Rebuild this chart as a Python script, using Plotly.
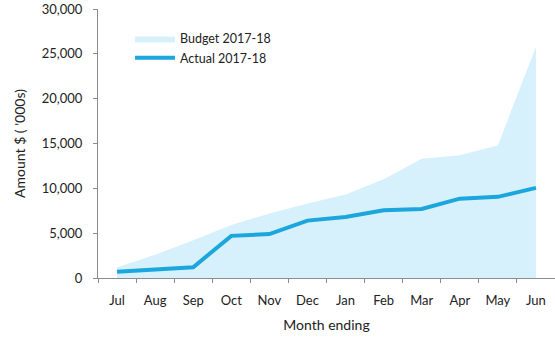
import plotly.graph_objects as go

months = ['Jul', 'Aug', 'Sep', 'Oct', 'Nov', 'Dec', 'Jan', 'Feb', 'Mar', 'Apr', 'May', 'Jun']
budget = [1200, 2600, 4200, 5900, 7200, 8300, 9300, 11000, 13300, 13700, 14800, 25800]
actual = [700, 1000, 1200, 4700, 4900, 6400, 6800, 7550, 7700, 8850, 9050, 10050]

font = 'Lato, "Open Sans", sans-serif'
axis_grey = '#8c8c8c'

fig = go.Figure()
fig.add_trace(go.Scatter(x=months, y=budget, name='Budget 2017-18', mode='lines',
                         fill='tozeroy', fillcolor='#d7f1fc', line=dict(width=0, color='#d7f1fc')))
fig.add_trace(go.Scatter(x=months, y=actual, name='Actual 2017-18', mode='lines',
                         line=dict(width=4, color='#1ba6dd')))

fig.update_layout(
    width=555, height=338,
    margin=dict(l=98, r=0, t=9, b=60),
    paper_bgcolor='white', plot_bgcolor='white',
    font=dict(family=font, size=13, color='#222'),
    showlegend=True,
    legend=dict(x=0.07, y=0.945, xanchor='left', yanchor='top', bgcolor='rgba(0,0,0,0)',
                font=dict(size=12.5), itemwidth=40, tracegroupgap=0),
    xaxis=dict(type='category', range=[-0.5, 11.5], showline=True, linecolor=axis_grey,
               ticks='outside', tickson='boundaries', ticklen=4, tickcolor=axis_grey,
               ticklabelstandoff=10, showgrid=False, zeroline=False, automargin=False,
               title=dict(text='Month ending', font=dict(size=14), standoff=13)),
    yaxis=dict(range=[0, 30000], dtick=5000, tickformat=',', showline=True, linecolor=axis_grey,
               ticks='outside', ticklen=4, tickcolor=axis_grey, ticklabelstandoff=8,
               ticklabeloverflow='allow', showgrid=False, zeroline=False, automargin=False,
               title=dict(text="Amount $ ( '000s)", font=dict(size=14), standoff=12)),
)

# the page has a default 8px body margin, drop it so the figure sits at 0,0
fig.write_html('out.html', config={'displayModeBar': False},
               post_script="document.body.style.margin='0';")
